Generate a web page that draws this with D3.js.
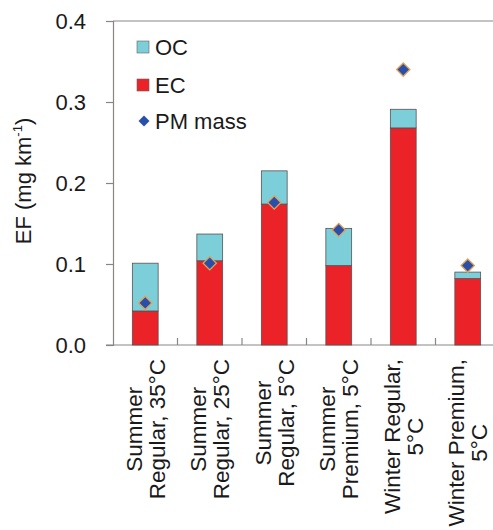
<!DOCTYPE html>
<html lang="en">
  <head>
    <meta charset="UTF-8" />
    <title>EF chart</title>
    <style type="text/css">
      body { margin: 0; background: #ffffff; }
      text { font-family: 'Liberation Sans', Arial, sans-serif; fill: #1a1a1a; }
    </style>
    <script src="https://d3js.org/d3.v7.min.js"></script>
  </head>
  <body>
    <div class="d3Chart"></div>
    <script type="text/javascript">
      // data
      var categories = [
        ['Summer', 'Regular, 35°C'],
        ['Summer', 'Regular, 25°C'],
        ['Summer', 'Regular, 5°C'],
        ['Summer', 'Premium, 5°C'],
        ['Winter Regular,', '5°C'],
        ['Winter Premium,', '5°C']
      ]
      var ecValues = [0.042, 0.104, 0.174, 0.098, 0.268, 0.082]
      var ocValues = [0.059, 0.033, 0.041, 0.046, 0.023, 0.008]
      var pmValues = [0.052, 0.101, 0.176, 0.142, 0.34, 0.098]
      var yTicks = [0, 0.1, 0.2, 0.3, 0.4]

      var width = 493
      var height = 530
      var plotLeft = 113, plotRight = 500, plotTop = 21, plotBottom = 345

      var svg = d3.select('.d3Chart').append('svg')
        .attr('width', width).attr('height', height)

      var x = d3.scaleBand().domain(d3.range(categories.length)).range([plotLeft, plotRight]).padding(0)
      var y = d3.scaleLinear().domain([0, 0.4]).range([plotBottom, plotTop])
      var bw = x.bandwidth()
      var barW = bw * 0.4

      // frame top
      svg.append('line')
        .attr('x1', plotLeft).attr('x2', width).attr('y1', plotTop).attr('y2', plotTop)
        .attr('stroke', '#8a8585').attr('stroke-width', 1.2)

      // y axis
      var yAxis = svg.append('g')
        .attr('transform', 'translate(' + plotLeft + ',0)')
        .call(d3.axisLeft(y).tickValues(yTicks).tickFormat(d3.format('.1f')).tickSize(7).tickPadding(20))
      yAxis.select('.domain').attr('stroke', '#8a8585').attr('stroke-width', 1.2)
      yAxis.selectAll('.tick line').attr('stroke', '#8a8585').attr('stroke-width', 1.2)
      yAxis.selectAll('.tick text').style('font-size', '22px').attr('fill', '#1a1a1a')
        .attr('font-family', "'Liberation Sans', Arial, sans-serif")

      // x axis line
      svg.append('line')
        .attr('x1', plotLeft - 7).attr('x2', width).attr('y1', y(0)).attr('y2', y(0))
        .attr('stroke', '#8a8585').attr('stroke-width', 1.2)
      svg.selectAll('.xtick').data(d3.range(1, categories.length)).enter().append('line')
        .attr('class', 'xtick')
        .attr('x1', (d) => x(d)).attr('x2', (d) => x(d))
        .attr('y1', y(0)).attr('y2', y(0) - 7)
        .attr('stroke', '#8a8585').attr('stroke-width', 1.2)

      // bars
      var bars = svg.append('g').attr('stroke', '#5a5050').attr('stroke-width', 0.8)
      bars.selectAll('.ec').data(ecValues).enter().append('rect')
        .attr('class', 'ec')
        .attr('x', (d, i) => x(i) + (bw - barW) / 2)
        .attr('width', barW)
        .attr('y', (d) => y(d))
        .attr('height', (d) => y(0) - y(d))
        .attr('fill', '#eb2328')
      bars.selectAll('.oc').data(ocValues).enter().append('rect')
        .attr('class', 'oc')
        .attr('x', (d, i) => x(i) + (bw - barW) / 2)
        .attr('width', barW)
        .attr('y', (d, i) => y(d + ecValues[i]))
        .attr('height', (d, i) => y(ecValues[i]) - y(d + ecValues[i]))
        .attr('fill', '#7ccfd9')

      // PM diamonds
      var diamond = d3.symbol().type(d3.symbolSquare).size(88)
      svg.selectAll('.pm').data(pmValues).enter().append('path')
        .attr('class', 'pm')
        .attr('d', diamond)
        .attr('transform', (d, i) => 'translate(' + (x(i) + bw / 2) + ',' + y(d) + ') rotate(45)')
        .attr('fill', '#2a4fab')
        .attr('stroke', '#e0a457')
        .attr('stroke-width', 1.3)

      // x labels
      var labelTop = 359
      categories.forEach(function (lines, i) {
        var c = x(i) + bw / 2
        var g = svg.append('g').attr('transform', 'rotate(-90)')
        var texts = lines.map(function (t, j) {
          return g.append('text')
            .attr('y', c + (j === 0 ? -11.5 : 11.5))
            .attr('dy', '0.35em')
            .attr('text-anchor', 'middle')
            .style('font-size', '22.5px')
            .text(t)
        })
        var maxLen = d3.max(texts, (t) => t.node().getComputedTextLength())
        texts.forEach((t) => t.attr('x', -(labelTop + maxLen / 2)))
      })

      // y title
      var yt = svg.append('text')
        .attr('transform', 'translate(31,181) rotate(-90)')
        .attr('text-anchor', 'middle')
        .style('font-size', '22px')
      yt.append('tspan').text('EF (mg km')
      yt.append('tspan').text('-1').style('font-size', '13px').attr('dy', '-9')
      yt.append('tspan').text(')').attr('dy', '9')

      // legend
      var legend = svg.append('g').attr('transform', 'translate(143,0)')
      var legItems = [
        { label: 'OC', color: '#7ccfd9', y: 47 },
        { label: 'EC', color: '#eb2328', y: 85 },
        { label: 'PM mass', color: '#2a4fab', y: 121 }
      ]
      legItems.forEach(function (d, i) {
        if (i < 2) {
          legend.append('rect')
            .attr('x', -6).attr('y', d.y - 6).attr('width', 12).attr('height', 12)
            .attr('fill', d.color).attr('stroke', '#6a6060').attr('stroke-width', 0.6)
        } else {
          legend.append('path')
            .attr('d', d3.symbol().type(d3.symbolSquare).size(60))
            .attr('transform', 'translate(1,' + d.y + ') rotate(45)')
            .attr('fill', d.color)
        }
        legend.append('text')
          .attr('x', 12).attr('y', d.y).attr('dy', '0.36em')
          .style('font-size', '22px')
          .text(d.label)
      })
    </script>
  </body>
</html>
